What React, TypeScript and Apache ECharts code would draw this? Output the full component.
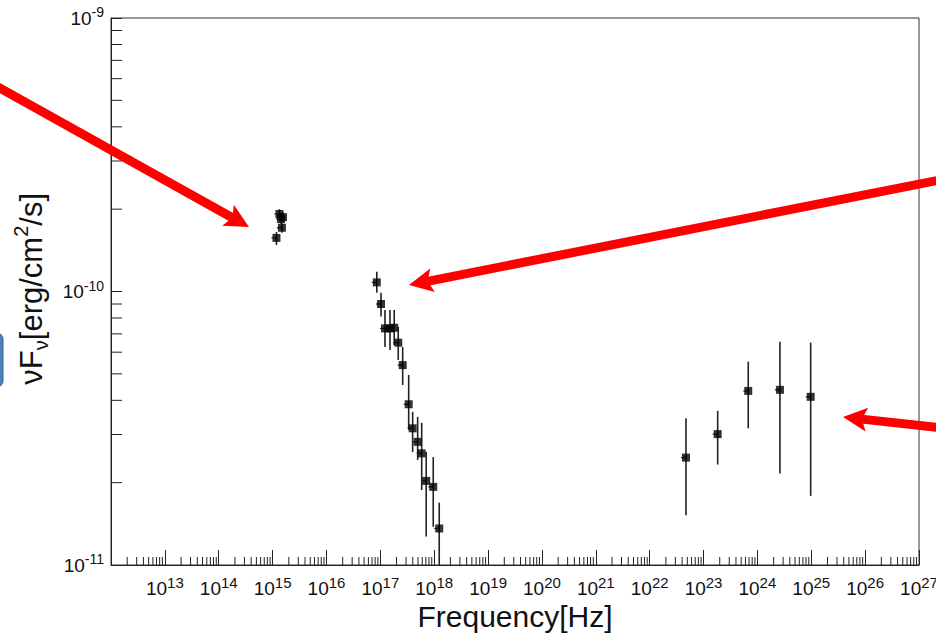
import React, { useEffect, useRef } from 'react';
import * as echarts from 'echarts';

const FONT = "'Liberation Sans', Arial, Helvetica, sans-serif";

// Optical/UV
const opticalFreq = [1.18e15, 1.34e15, 1.43e15, 1.56e15, 1.49e15];
const opticalFlux = [1.57e-10, 1.92e-10, 1.84e-10, 1.87e-10, 1.71e-10];
const opticalLo = [1.48e-10, 1.84e-10, 1.77e-10, 1.80e-10, 1.64e-10];
const opticalHi = [1.65e-10, 2.0e-10, 1.92e-10, 1.95e-10, 1.78e-10];

// X-ray
const xrayFreq = [8.6e16, 1.03e17, 1.22e17, 1.51e17, 1.81e17, 2.15e17, 2.6e17, 3.36e17, 3.98e17, 4.93e17, 5.86e17, 7.1e17, 9.6e17, 1.24e18];
const xrayFlux = [1.08e-10, 9.0e-11, 7.33e-11, 7.33e-11, 7.37e-11, 6.5e-11, 5.38e-11, 3.87e-11, 3.16e-11, 2.82e-11, 2.56e-11, 2.03e-11, 1.93e-11, 1.36e-11];
const xrayLo = [9.9e-11, 8.1e-11, 6.27e-11, 6.11e-11, 6.37e-11, 5.62e-11, 4.55e-11, 3.12e-11, 2.59e-11, 2.42e-11, 1.88e-11, 1.27e-11, 1.38e-11, 1.0e-11];
const xrayHi = [1.18e-10, 9.9e-11, 8.56e-11, 8.56e-11, 8.56e-11, 7.42e-11, 6.27e-11, 4.95e-11, 3.63e-11, 3.48e-11, 3.31e-11, 2.59e-11, 2.48e-11, 1.69e-11];

// Gamma-ray
const gammaFreq = [4.72e22, 1.83e23, 6.76e23, 2.62e24, 9.75e24];
const gammaFlux = [2.47e-11, 3.01e-11, 4.33e-11, 4.37e-11, 4.12e-11];
const gammaLo = [1.52e-11, 2.33e-11, 3.16e-11, 2.16e-11, 1.79e-11];
const gammaHi = [3.44e-11, 3.66e-11, 5.54e-11, 6.55e-11, 6.5e-11];

// Axes
const xMin = 1e12;
const xMax = 1e27;
const yMin = 1e-11;
const yMax = 1e-9;
const xDecadeExps = [12, 13, 14, 15, 16, 17, 18, 19, 20, 21, 22, 23, 24, 25, 26];
const yDecadeExps = [-11, -10];
const minorMultipliers = [2, 3, 4, 5, 6, 7, 8, 9];
const hiddenXLabelExp = 12;

const allFreq = [...opticalFreq, ...xrayFreq, ...gammaFreq];
const allFlux = [...opticalFlux, ...xrayFlux, ...gammaFlux];
const allLo = [...opticalLo, ...xrayLo, ...gammaLo];
const allHi = [...opticalHi, ...xrayHi, ...gammaHi];

function arrow(tip: number[], tail: number[], width: number, headLen: number, headHalf: number) {
  const dx = tail[0] - tip[0];
  const dy = tail[1] - tip[1];
  const len = Math.sqrt(dx * dx + dy * dy);
  const ux = dx / len;
  const uy = dy / len;
  const nx = -uy;
  const ny = ux;
  const bx = tip[0] + ux * headLen;
  const by = tip[1] + uy * headLen;
  const nxp = tip[0] + ux * (headLen - 3);
  const nyp = tip[1] + uy * (headLen - 3);
  return [
    {
      type: 'line',
      z: 100,
      silent: true,
      shape: { x1: nxp, y1: nyp, x2: tail[0], y2: tail[1] },
      style: { stroke: '#ff0000', lineWidth: width },
    },
    {
      type: 'polygon',
      z: 100,
      silent: true,
      shape: {
        points: [
          tip,
          [bx + nx * headHalf + ux * 2, by + ny * headHalf + uy * 2],
          [nxp, nyp],
          [bx - nx * headHalf + ux * 2, by - ny * headHalf + uy * 2],
        ],
      },
      style: { fill: '#ff0000' },
    },
  ];
}

export default function App() {
  const ref = useRef<HTMLDivElement>(null);
  useEffect(() => {
    if (!ref.current) return;
    const chart = echarts.init(ref.current, null, { renderer: 'svg' });
    const xRich = {
      base: { fontSize: 19, fontFamily: FONT, color: '#111', lineHeight: 26, verticalAlign: 'middle' },
      sup: { fontSize: 15, fontFamily: FONT, color: '#111', lineHeight: 15, verticalAlign: 'top' },
    };
    const yRich = {
      base: { fontSize: 19, fontFamily: FONT, color: '#111', lineHeight: 26, verticalAlign: 'middle' },
      sup: { fontSize: 14, fontFamily: FONT, color: '#111', lineHeight: 15, verticalAlign: 'top' },
    };
    const errData = allFreq.map((f, i) => [f, allFlux[i], allLo[i], allHi[i]]);
    const ptData = allFreq.map((f, i) => [f, allFlux[i]]);
    const option: any = {
      animation: false,
      backgroundColor: '#ffffff',
      grid: {
        left: 111,
        right: 17,
        top: 18,
        bottom: 69,
        show: true,
        borderColor: '#333',
        borderWidth: 1,
        backgroundColor: 'transparent',
        containLabel: false,
        outerBoundsMode: 'none',
      },
      xAxis: {
        type: 'log',
        logBase: 10,
        min: xMin,
        max: xMax,
        interval: 1,
        name: 'Frequency[Hz]',
        nameLocation: 'middle',
        nameGap: 35,
        nameMoveOverlap: false,
        nameTextStyle: { fontSize: 30, lineHeight: 32, fontFamily: FONT, color: '#111' },
        axisLine: { show: true, onZero: false, lineStyle: { color: '#222', width: 1 } },
        axisTick: { show: true, inside: true, length: 15, interval: 0, lineStyle: { color: '#222', width: 1 } },
        minorTick: { show: false },
        splitLine: { show: false },
        axisLabel: {
          interval: 0,
          margin: 10,
          fontSize: 19,
          fontFamily: FONT,
          color: '#111',
          hideOverlap: false,
          formatter: (v: number) => {
            const e = Math.round(Math.log10(v));
            return e === hiddenXLabelExp ? '' : `{base|10}{sup|${e}}`;
          },
          rich: xRich,
        },
      },
      yAxis: {
        type: 'log',
        logBase: 10,
        min: yMin,
        max: yMax,
        interval: 1,
        axisLine: { show: true, onZero: false, lineStyle: { color: '#222', width: 1 } },
        axisTick: { show: true, inside: true, length: 11, lineStyle: { color: '#222', width: 1 } },
        minorTick: { show: false },
        splitLine: { show: false },
        axisLabel: {
          margin: 7,
          fontSize: 19,
          fontFamily: FONT,
          color: '#111',
          formatter: (v: number) => {
            const e = Math.round(Math.log10(v));
            return `{base|10}{sup|${e}}`;
          },
          rich: yRich,
        },
      },
      graphic: [
        {
          type: 'rect',
          z: 100,
          silent: true,
          shape: { x: -20, y: 333, width: 23, height: 54, r: 6 },
          style: { fill: '#4f81bd', stroke: '#3a6597', lineWidth: 1 },
        },
        {
          type: 'text',
          z: 100,
          silent: true,
          x: 31,
          y: 193,
          rotation: Math.PI / 2,
          style: {
            text: '{m|νF}{sub|ν}{m|[erg/cm}{sup|2}{m|/s]}',
            align: 'right',
            verticalAlign: 'middle',
            fill: '#111',
            rich: {
              m: { fontSize: 31, fontFamily: FONT, color: '#111', lineHeight: 40, verticalAlign: 'middle' },
              sub: { fontSize: 20, fontFamily: FONT, color: '#111', lineHeight: 20, verticalAlign: 'bottom' },
              sup: { fontSize: 20, fontFamily: FONT, color: '#111', lineHeight: 20, verticalAlign: 'top' },
            },
          },
        },
        ...arrow([249, 227], [-20, 77], 9, 22, 12),
        ...arrow([409, 285], [960, 176], 9, 22, 12),
        ...arrow([843, 417], [960, 430], 9, 22, 12),
      ],
      series: [
        {
          type: 'custom',
          silent: true,
          clip: false,
          data: [[xMin, yMin]],
          renderItem: (_params: any, api: any) => {
            const children: any[] = [];
            for (const e of xDecadeExps) {
              for (const m of minorMultipliers) {
                const p = api.coord([m * Math.pow(10, e), yMin]);
                children.push({
                  type: 'line',
                  shape: { x1: p[0], y1: p[1], x2: p[0], y2: p[1] - 8 },
                  style: { stroke: '#222', lineWidth: 1 },
                });
              }
            }
            for (const e of yDecadeExps) {
              for (const m of minorMultipliers) {
                const p = api.coord([xMin, m * Math.pow(10, e)]);
                children.push({
                  type: 'line',
                  shape: { x1: p[0], y1: p[1], x2: p[0] + 11, y2: p[1] },
                  style: { stroke: '#222', lineWidth: 1 },
                });
              }
            }
            return { type: 'group', children };
          },
        },
        {
          type: 'custom',
          silent: true,
          data: errData,
          encode: { x: 0, y: 1 },
          renderItem: (_params: any, api: any) => {
            const x = api.value(0);
            const a = api.coord([x, api.value(3)]);
            const b = api.coord([x, api.value(2)]);
            const c = api.coord([x, api.value(1)]);
            return {
              type: 'group',
              children: [
                {
                  type: 'line',
                  shape: { x1: a[0], y1: a[1], x2: b[0], y2: b[1] },
                  style: { stroke: '#222', lineWidth: 1.6 },
                },
                {
                  type: 'line',
                  shape: { x1: c[0] - 5, y1: c[1], x2: c[0], y2: c[1] },
                  style: { stroke: '#222', lineWidth: 1.2 },
                },
              ],
            };
          },
        },
        {
          type: 'scatter',
          silent: true,
          symbol: 'rect',
          symbolSize: 8,
          itemStyle: { color: '#000' },
          data: ptData,
          z: 5,
        },
      ],
    };
    chart.setOption(option);
    return () => chart.dispose();
  }, []);
  return (
    <div
      ref={ref}
      style={{ position: 'absolute', left: 0, top: 0, width: 936, height: 634, background: '#fff' }}
    />
  );
}
